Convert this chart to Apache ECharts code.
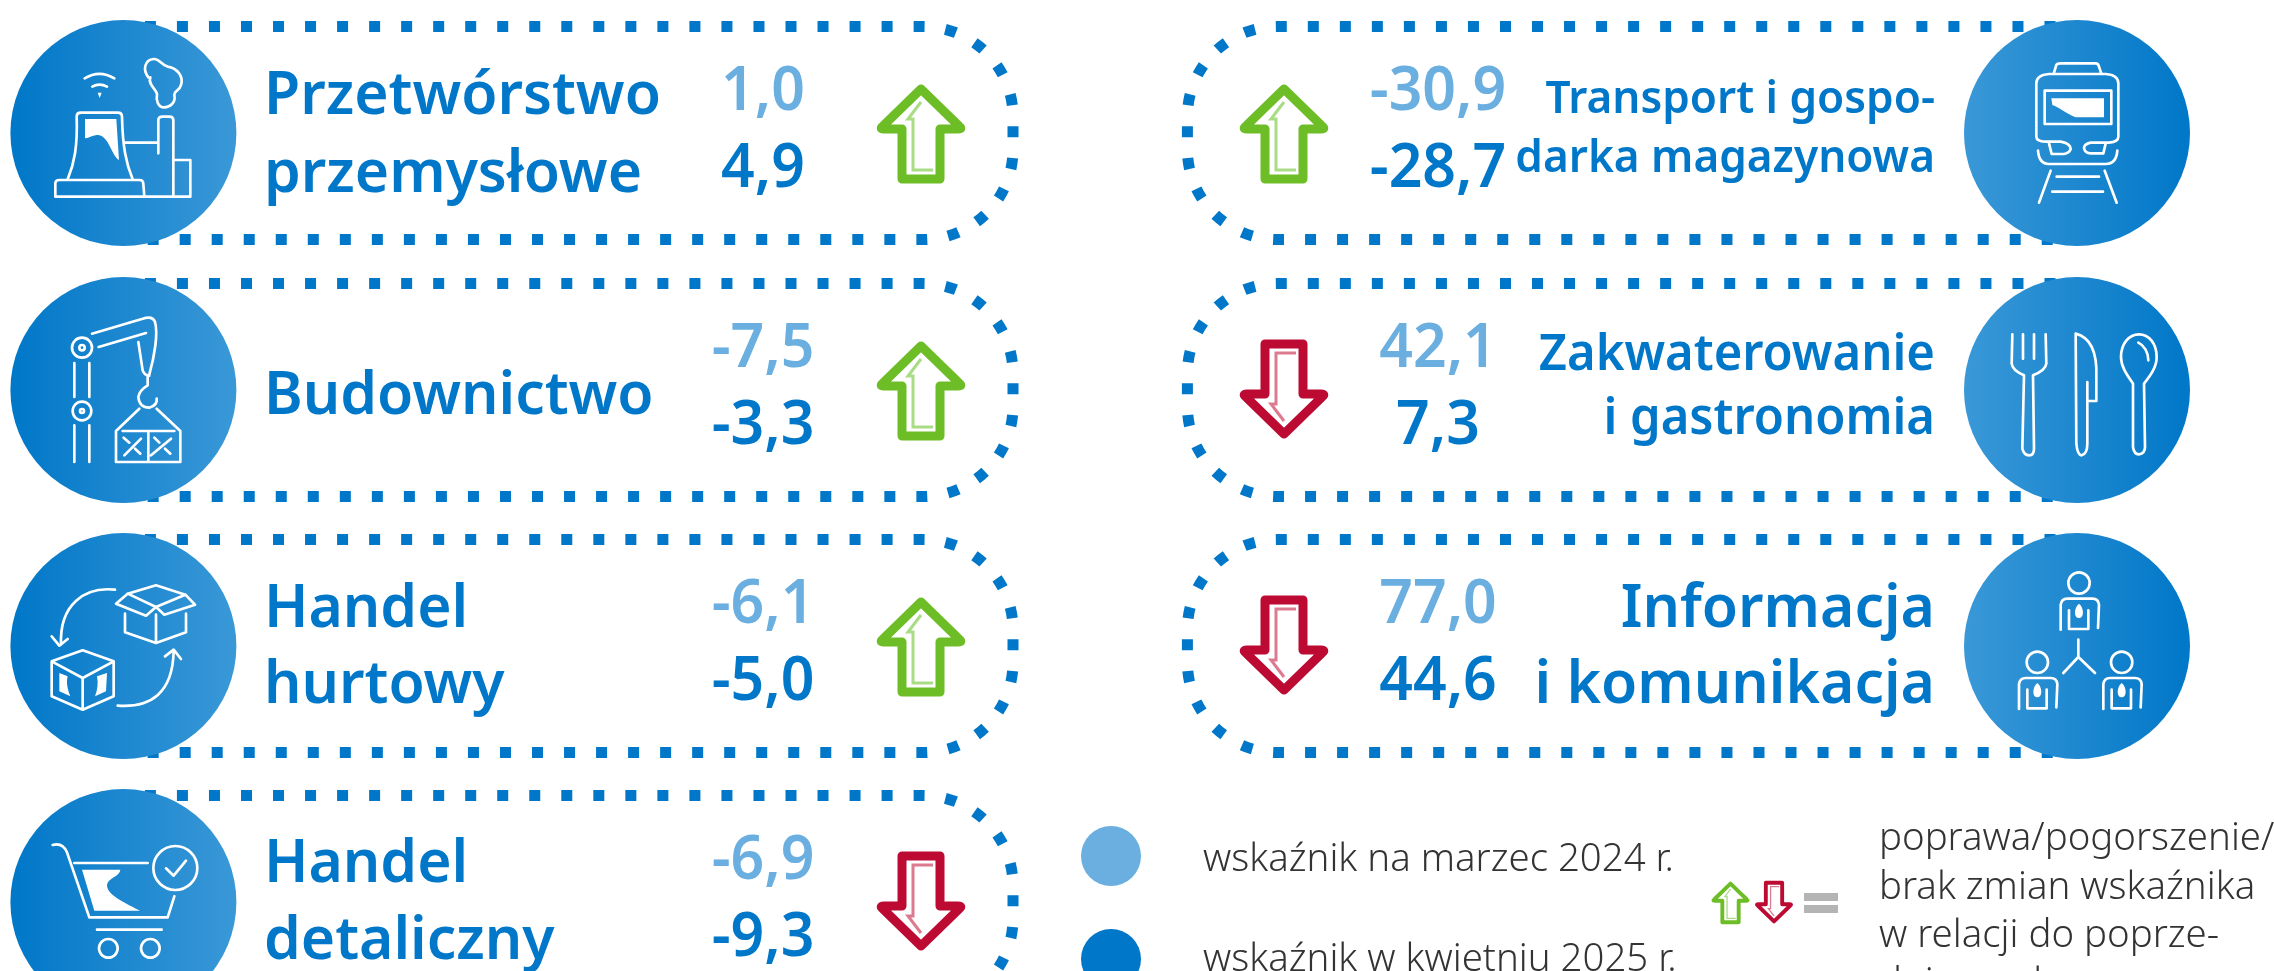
<!DOCTYPE html>
<html lang="pl">
<head>
<meta charset="utf-8">
<title>Wskaźniki koniunktury</title>
<style>
  html, body { margin: 0; background: #fff; }
  #chart { width: 2274px; height: 971px; overflow: hidden; }
</style>
</head>
<body>
<div id="chart"></div>
<script src="https://cdn.jsdelivr.net/npm/echarts@6/dist/echarts.min.js"></script>
<script>
// dane
const sectorNames = [
  ['Przetwórstwo', 'przemysłowe'],
  ['Budownictwo'],
  ['Handel', 'hurtowy'],
  ['Handel', 'detaliczny'],
  ['Transport i gospo-', 'darka magazynowa'],
  ['Zakwaterowanie', 'i gastronomia'],
  ['Informacja', 'i komunikacja']
];
const valuesMarch2024 = [1.0, -7.5, -6.1, -6.9, -30.9, 42.1, 77.0];
const valuesApril2025 = [4.9, -3.3, -5.0, -9.3, -28.7, 7.3, 44.6];
const trends = ['up', 'up', 'up', 'down', 'up', 'down', 'down'];
const sectorIcons = ['factory', 'crane', 'boxes', 'cart', 'train', 'cutlery', 'people'];
const legendLabels = ['wskaźnik na marzec 2024 r.', 'wskaźnik w kwietniu 2025 r.'];
const legendNote = ['poprawa/pogorszenie/', 'brak zmian wskaźnika', 'w relacji do poprze-', 'dniego okresu'];

// układ (osobno od danych)
const colors = {
  blue: '#0077c8',
  lightBlue: '#6aafe0',
  gradEnd: '#3a98d7',
  up: '#6dbd26',
  upInner: '#a9dc85',
  down: '#bd0a33',
  downInner: '#dc7b90',
  text: '#333333',
  equal: '#b4b4b4'
};
const NAME_FONT = '"Noto Sans"';
const panelPos = [
  [123.4, 133], [123.4, 390], [123.4, 646], [123.4, 902],
  [2077, 133], [2077, 390], [2077, 646]
];
const nameStyle = [
  { size: 60, lines: [-19, 59] },
  { size: 60, lines: [24] },
  { size: 60, lines: [-19, 57] },
  { size: 60, lines: [-20, 57] },
  { size: 45, lines: [-20, 39] },
  { size: 50, lines: [-20, 44] },
  { size: 60, lines: [-19, 57] }
];
const MID = 0.28; // middle -> baseline, Noto Sans

// ikony: wspolrzedne w kwadracie 678x678 (3x kolo)
function person(dx, dy) {
  const p = (x, y) => (x + dx) + ',' + (y + dy);
  const r = 32, cx = 330, cy = 150;
  return 'M' + p(cx - r, cy) + ' A' + r + ',' + r + ' 0 1,1 ' + p(cx + r, cy) + ' A' + r + ',' + r + ' 0 1,1 ' + p(cx - r, cy) +
    ' M' + p(275, 290) + ' L' + p(275, 215) + ' Q' + p(278, 197) + ' ' + p(295, 197) + ' L' + p(370, 197) + ' Q' + p(388, 197) + ' ' + p(390, 215) + ' L' + p(387, 285) +
    ' M' + p(300, 232) + ' L' + p(300, 288) + ' L' + p(358, 288) + ' L' + p(358, 232);
}
function personTie(dx, dy) {
  const p = (x, y) => (x + dx) + ',' + (y + dy);
  return 'M' + p(330, 212) + ' C' + p(346, 225) + ' ' + p(346, 255) + ' ' + p(330, 255) + ' C' + p(314, 255) + ' ' + p(314, 225) + ' ' + p(330, 212) + ' Z';
}
function ring(cx, cy, r) {
  return 'M' + (cx - r) + ',' + cy + ' A' + r + ',' + r + ' 0 1,1 ' + (cx + r) + ',' + cy + ' A' + r + ',' + r + ' 0 1,1 ' + (cx - r) + ',' + cy + ' ';
}
const iconPaths = {
  factory: {
    line: 'M221,175 Q265,148 310,175 M244,200 Q265,188 288,200 ' +
      'M412,172 C395,150 400,120 428,117 C445,115 450,135 470,140 C500,145 518,170 510,195 C505,215 490,210 490,225 C495,250 475,262 460,262 C440,262 435,240 438,222 C435,205 410,195 418,172 ' +
      'M170,478 C190,430 200,380 197,290 Q197,278 210,278 L320,278 Q333,278 333,290 C335,380 345,430 365,478 ' +
      'M133,530 L133,490 Q133,480 145,480 L385,480 Q397,480 397,492 L400,530 M133,530 L538,530 ' +
      'M340,368 L440,368 M442,400 L442,300 Q442,290 455,290 L475,290 Q487,290 487,300 L487,530 M487,420 L538,420 L538,530',
    fill: 'M260,218 L272,218 L266,234 Z M222,297 L316,297 L324,420 C300,405 295,350 262,345 C245,345 240,352 222,355 Z'
  },
  crane: {
    line: ring(213, 212, 30) + ring(213, 212, 8) + ring(213, 402, 28) + ring(213, 402, 6) +
      'M190,258 L190,360 M235,258 L235,360 M190,445 L190,555 M235,445 L235,555 ' +
      'M243,170 L395,125 Q425,115 432,135 C442,170 430,240 415,292 M263,210 L405,168 M382,195 L395,280 Q400,295 415,296 ' +
      'M410,296 L410,325 Q385,340 382,360 Q385,392 415,392 Q440,385 437,365 ' +
      'M385,395 L315,462 L315,555 L508,555 L508,462 L437,395 M335,462 L490,462 M412,465 L412,555 ' +
      'M340,535 L390,485 M420,535 L480,485 M338,482 L355,497 M372,515 L388,530 M430,482 L445,497 M462,515 L478,530',
    fill: 'M0,0'
  },
  boxes: {
    line: 'M435,157 L523,185 L552,215 L460,245 L435,222 L405,248 L315,212 L350,182 Z M350,182 L435,222 L523,185 ' +
      'M342,242 L342,298 L435,330 L525,298 L525,242 M435,245 L435,330 ' +
      'M312,170 C220,160 145,215 150,335 M122,310 L145,338 L170,318 ' +
      'M122,385 L215,352 L308,385 L308,490 L215,530 L122,490 Z M122,385 L215,435 L308,385 M215,435 L215,530 ' +
      'M320,518 C420,525 485,480 488,355 M462,370 L488,350 L510,378',
    fill: 'M145,420 L170,430 C165,450 170,470 178,490 L145,475 Z M258,430 L288,420 L285,475 L252,490 C260,470 262,450 258,430 Z'
  },
  cart: {
    line: 'M125,168 Q155,160 168,190 L235,385 L470,385 L490,322 M190,222 L410,222 ' +
      ring(493, 237, 66) + 'M465,238 L488,260 L525,215 M258,422 L452,422 ' + ring(292, 478, 28) + ring(418, 478, 28),
    fill: 'M213,242 L328,242 C325,265 290,265 288,290 C290,320 350,345 387,365 L250,365 Z'
  },
  train: {
    line: 'M255,158 L262,135 Q265,130 275,130 L380,130 Q388,130 390,140 L396,158 ' +
      'M240,162 L410,162 Q448,165 448,190 L448,350 Q448,365 420,368 L365,368 Q345,372 345,385 Q348,400 365,400 L403,400 L410,370 ' +
      'M240,162 Q202,165 202,190 L202,350 Q202,365 235,365 L275,365 Q305,370 305,388 Q300,400 285,402 L248,402 L240,370 ' +
      'M227,212 L427,212 L427,312 L227,312 Z M207,392 Q210,432 240,432 L410,432 Q442,432 445,392 ' +
      'M245,452 L210,548 M407,452 L443,548 M263,470 L390,470 M250,515 L402,515',
    fill: 'M247,235 L405,235 L405,292 L320,292 C290,280 270,262 250,255 Z'
  },
  cutlery: {
    line: 'M130,172 L128,260 Q130,280 165,295 L160,515 Q165,535 180,535 Q195,535 195,515 L192,295 Q230,280 232,260 L230,172 M162,172 L162,245 M195,172 L195,245 ' +
      'M320,170 C360,180 385,220 382,300 L382,372 L355,372 L355,315 M320,170 L322,500 Q325,535 338,535 Q355,530 355,500 L355,372 ' +
      'M510,172 C480,172 456,200 456,240 C456,270 475,295 492,320 L492,510 Q495,532 510,532 Q528,530 528,510 L525,320 C545,295 563,270 563,240 C563,200 540,172 510,172 Z M508,197 C525,205 538,225 538,250',
    fill: 'M0,0'
  },
  people: {
    line: person(0, 0) + ' ' + person(-125, 238) + ' ' + person(128, 238) + ' M328,320 L328,372 L283,420 M328,372 L378,420',
    fill: personTie(0, 0) + ' ' + personTie(-125, 238) + ' ' + personTie(128, 238)
  }
};
Object.keys(iconPaths).forEach(k => {
  echarts.graphic.registerShape(k + 'Line', echarts.graphic.extendPath(iconPaths[k].line));
  echarts.graphic.registerShape(k + 'Fill', echarts.graphic.extendPath(iconPaths[k].fill));
});
echarts.graphic.registerShape('arrowBody', echarts.graphic.extendPath(
  'M0,-44 L38,-7 Q42,-4 37,-4 L19,-4 L19,46 L-19,46 L-19,-4 L-37,-4 Q-42,-4 -38,-7 Z'));
echarts.graphic.registerShape('arrowInner', echarts.graphic.extendPath(
  'M0,-31 L-13,-14 L-8,-14 L-8,37 L12,37'));

// ramka z kropek, lokalnie wzgledem srodka kola
echarts.graphic.registerShape('panelBorder', echarts.graphic.extendShape({
  buildPath(ctx) {
    const start = 21.5, cx = 799.6, r = 90, h = 106.5;
    ctx.moveTo(start, -h);
    ctx.lineTo(cx, -h);
    ctx.arc(cx, -h + r, r, -Math.PI / 2, 0, false);
    ctx.lineTo(cx + r, h - r);
    ctx.arc(cx, h - r, r, 0, Math.PI / 2, false);
    ctx.lineTo(start, h);
  }
}));

const fmt = v => v.toFixed(1).replace('.', ',');

function textEl(text, x, baseline, size, weight, fill, align, sx) {
  return {
    type: 'text',
    x, y: baseline - size * MID,
    scaleX: sx,
    style: {
      text,
      font: weight + ' ' + size + 'px ' + NAME_FONT,
      fill,
      align,
      verticalAlign: 'middle'
    }
  };
}

function arrowEls(x, y, trend, scale) {
  const up = trend === 'up';
  return [
    { type: 'arrowBody', x, y, scaleX: scale, scaleY: up ? scale : -scale,
      style: { fill: '#fff', stroke: up ? colors.up : colors.down, lineWidth: 9, lineJoin: 'round' } },
    { type: 'arrowInner', x, y, scaleX: scale, scaleY: up ? scale : -scale,
      style: { fill: null, stroke: up ? colors.upInner : colors.downInner, lineWidth: 3 } }
  ];
}

function renderPanel(params, api) {
  const i = params.dataIndex;
  const pt = api.coord(panelPos[i]);
  const left = pt[0] < 1100;
  const cx = pt[0], cy = pt[1];
  const ns = nameStyle[i];
  const icon = sectorIcons[i];
  const iconX = cx + (left ? -112.4 : -108);
  const children = [
    { type: 'panelBorder', x: cx, y: cy, scaleX: left ? 1 : -1,
      style: { fill: null, stroke: colors.blue, lineWidth: 11, lineDash: [11, 21.03], lineCap: 'butt' } },
    { type: 'circle', shape: { cx, cy, r: 113 },
      style: { fill: new echarts.graphic.LinearGradient(0, 0, 1, 0, left
        ? [{ offset: 0, color: colors.blue }, { offset: 1, color: colors.gradEnd }]
        : [{ offset: 0, color: colors.gradEnd }, { offset: 1, color: colors.blue }]) } },
    { type: icon + 'Line', x: iconX, y: cy - 113, scaleX: 1 / 3, scaleY: 1 / 3,
      style: { fill: null, stroke: '#fff', lineWidth: 8, lineCap: 'round', lineJoin: 'round' } },
    { type: icon + 'Fill', x: iconX, y: cy - 113, scaleX: 1 / 3, scaleY: 1 / 3,
      style: { fill: '#fff' } }
  ];
  sectorNames[i].forEach((line, k) => {
    children.push(left
      ? textEl(line, 264, cy + ns.lines[k], ns.size, 600, colors.blue, 'left', 0.98)
      : textEl(line, 1935, cy + ns.lines[k], ns.size, 600, colors.blue, 'right', 0.98));
  });
  const vx = left ? 763 : 1438;
  children.push(textEl(fmt(valuesMarch2024[i]), vx, cy - 23, 62, 600, colors.lightBlue, 'center', 0.95));
  children.push(textEl(fmt(valuesApril2025[i]), vx, cy + 54, 62, 600, colors.blue, 'center', 0.95));
  return { type: 'group', children: children.concat(arrowEls(left ? 921 : 1284, cy, trends[i], 1)) };
}

function renderLegend(params, api) {
  const children = [];
  legendLabels.forEach((label, k) => {
    const y = [856, 959][k];
    const p = api.coord([1111, y]);
    children.push({ type: 'circle', shape: { cx: p[0], cy: p[1], r: 30 },
      style: { fill: k ? colors.blue : colors.lightBlue } });
    children.push(textEl(label, 1203, [871, 971][k], 38, 300, colors.text, 'left', 1.01));
  });
  arrowEls(1730.5, 902.5, 'up', 0.43).concat(arrowEls(1774, 902.5, 'down', 0.43)).forEach(el => children.push(el));
  [[893], [905]].forEach(r => {
    children.push({ type: 'rect', shape: { x: 1804, y: r[0], width: 34, height: 8 }, style: { fill: colors.equal } });
  });
  legendNote.forEach((line, k) => {
    children.push(textEl(line, 1879, [850, 899, 947, 995][k], 38, 300, colors.text, 'left', 1.01));
  });
  return { type: 'group', children };
}

const myChart = echarts.init(document.getElementById('chart'), null, { renderer: 'canvas' });

const option = {
  backgroundColor: '#ffffff',
  animation: false,
  grid: { left: 0, right: 0, top: 0, bottom: 0 },
  xAxis: { type: 'value', min: 0, max: 2274, show: false },
  yAxis: { type: 'value', min: 0, max: 971, inverse: true, show: false },
  series: [
    {
      name: 'panele',
      type: 'custom',
      silent: true,
      clip: false,
      renderItem: renderPanel,
      data: sectorNames.map((n, i) => [i, valuesApril2025[i]])
    },
    {
      name: 'legenda',
      type: 'custom',
      silent: true,
      clip: false,
      renderItem: renderLegend,
      data: [[0, 0]]
    }
  ]
};

myChart.setOption(option);
window.addEventListener('resize', () => myChart.resize());
</script>
</body>
</html>
